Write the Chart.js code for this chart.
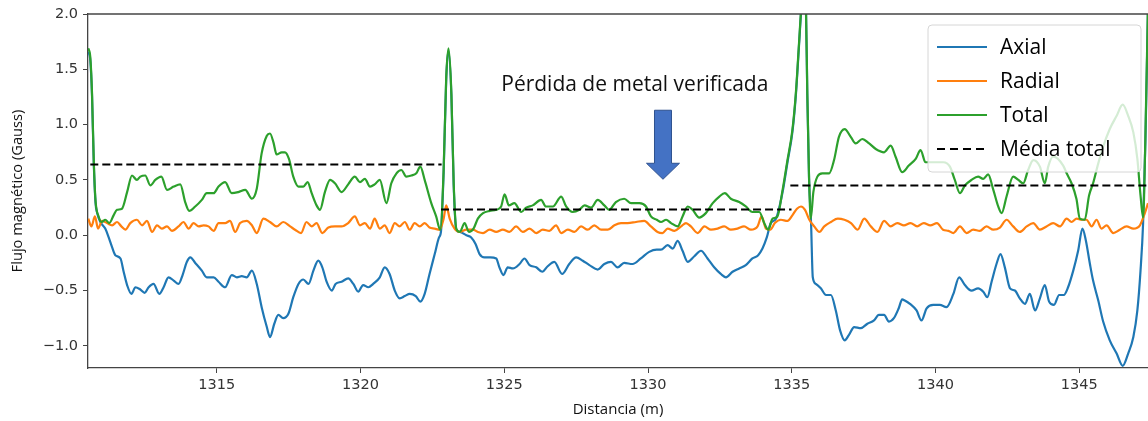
<!DOCTYPE html>
<html>
<head>
<meta charset="utf-8">
<script src="https://cdn.jsdelivr.net/npm/chart.js@4.4.1/dist/chart.umd.min.js"></script>
<style>
  html, body { margin: 0; padding: 0; background: #fff; }
  #wrap { width: 1148px; height: 421px; position: relative; }
</style>
</head>
<body>
<div id="wrap"><canvas id="fluxChart"></canvas></div>
<script>
// Axial component (blue)
const axialDist = [1310.53,1310.6,1310.66,1310.72,1310.78,1310.84,1310.95,1311.12,1311.24,1311.36,1311.47,1311.65,1311.76,1311.88,1312.03,1312.17,1312.34,1312.49,1312.63,1312.8,1313.0,1313.15,1313.32,1313.5,1313.67,1313.81,1313.96,1314.08,1314.25,1314.48,1314.65,1314.89,1315.06,1315.29,1315.52,1315.7,1315.87,1316.04,1316.22,1316.39,1316.56,1316.74,1316.85,1317.0,1317.14,1317.31,1317.49,1317.66,1317.84,1318.01,1318.19,1318.36,1318.53,1318.67,1318.82,1319.0,1319.13,1319.34,1319.57,1319.75,1319.92,1320.09,1320.27,1320.44,1320.67,1320.84,1321.01,1321.19,1321.36,1321.54,1321.71,1321.92,1322.08,1322.23,1322.4,1322.58,1322.73,1322.8,1322.89,1322.98,1323.06,1323.16,1323.24,1323.33,1323.45,1323.68,1323.85,1324.0,1324.14,1324.31,1324.51,1324.72,1324.83,1324.97,1325.12,1325.3,1325.53,1325.7,1325.88,1326.11,1326.32,1326.51,1326.74,1327.01,1327.26,1327.5,1327.73,1327.96,1328.25,1328.48,1328.71,1328.94,1329.17,1329.46,1329.75,1330.04,1330.3,1330.45,1330.68,1330.86,1331.03,1331.2,1331.38,1331.61,1331.84,1332.07,1332.3,1332.53,1332.71,1332.94,1333.17,1333.4,1333.63,1333.83,1333.98,1334.13,1334.27,1334.45,1334.68,1334.85,1335.02,1335.14,1335.25,1335.34,1335.42,1335.49,1335.54,1335.6,1335.67,1335.73,1335.84,1336.01,1336.19,1336.36,1336.53,1336.68,1336.84,1336.99,1337.17,1337.4,1337.63,1337.86,1338.03,1338.21,1338.38,1338.55,1338.72,1338.84,1338.93,1339.11,1339.34,1339.51,1339.69,1339.92,1340.15,1340.38,1340.62,1340.82,1341.02,1341.25,1341.48,1341.66,1341.8,1341.95,1342.12,1342.26,1342.41,1342.59,1342.76,1342.93,1343.11,1343.28,1343.46,1343.63,1343.8,1343.95,1344.12,1344.3,1344.46,1344.61,1344.79,1344.96,1345.11,1345.23,1345.37,1345.48,1345.66,1345.83,1346.06,1346.3,1346.51,1346.7,1346.88,1347.02,1347.13,1347.22,1347.3,1347.39];
const axialFlux = [1.66,1.58,1.26,0.66,0.30,0.20,0.12,0.06,-0.02,-0.11,-0.18,-0.21,-0.33,-0.45,-0.53,-0.47,-0.49,-0.52,-0.47,-0.44,-0.53,-0.47,-0.38,-0.41,-0.44,-0.36,-0.24,-0.20,-0.25,-0.32,-0.38,-0.38,-0.42,-0.47,-0.36,-0.38,-0.37,-0.38,-0.32,-0.44,-0.65,-0.83,-0.92,-0.80,-0.72,-0.75,-0.71,-0.56,-0.44,-0.40,-0.44,-0.32,-0.23,-0.29,-0.42,-0.50,-0.44,-0.42,-0.39,-0.44,-0.51,-0.45,-0.47,-0.44,-0.38,-0.29,-0.35,-0.50,-0.57,-0.55,-0.53,-0.55,-0.60,-0.53,-0.35,-0.17,-0.02,0.04,0.57,1.41,1.67,1.26,0.45,0.05,0.03,0.00,-0.02,-0.08,-0.17,-0.20,-0.20,-0.21,-0.29,-0.36,-0.29,-0.30,-0.26,-0.21,-0.27,-0.29,-0.33,-0.28,-0.24,-0.35,-0.26,-0.20,-0.23,-0.27,-0.31,-0.26,-0.24,-0.29,-0.25,-0.26,-0.21,-0.15,-0.13,-0.13,-0.09,-0.12,-0.05,-0.14,-0.24,-0.19,-0.14,-0.21,-0.29,-0.35,-0.38,-0.33,-0.30,-0.27,-0.21,-0.18,-0.12,-0.02,0.11,0.15,0.39,0.66,0.93,1.26,1.71,2.08,2.28,2.08,1.26,0.51,0.11,-0.38,-0.44,-0.48,-0.54,-0.54,-0.68,-0.86,-0.95,-0.90,-0.83,-0.84,-0.80,-0.77,-0.72,-0.72,-0.78,-0.75,-0.66,-0.58,-0.59,-0.62,-0.68,-0.77,-0.66,-0.63,-0.63,-0.65,-0.53,-0.38,-0.45,-0.50,-0.48,-0.51,-0.56,-0.42,-0.26,-0.17,-0.29,-0.48,-0.50,-0.57,-0.62,-0.53,-0.68,-0.57,-0.45,-0.60,-0.63,-0.54,-0.54,-0.47,-0.32,-0.14,0.06,-0.05,-0.26,-0.41,-0.59,-0.78,-0.95,-1.07,-1.18,-1.07,-0.92,-0.68,-0.32,0.11,0.85,2.05];

// Radial component (orange)
const radialDist = [1310.53,1310.64,1310.76,1310.87,1311.01,1311.18,1311.36,1311.53,1311.68,1311.82,1311.99,1312.22,1312.4,1312.57,1312.75,1312.92,1313.09,1313.27,1313.44,1313.67,1313.84,1314.02,1314.19,1314.37,1314.54,1314.71,1314.89,1315.06,1315.29,1315.46,1315.64,1315.81,1316.04,1316.22,1316.39,1316.62,1316.85,1317.08,1317.31,1317.55,1317.72,1317.93,1318.12,1318.3,1318.47,1318.67,1318.88,1319.11,1319.34,1319.57,1319.8,1319.98,1320.15,1320.33,1320.49,1320.67,1320.84,1321.01,1321.19,1321.36,1321.54,1321.71,1321.88,1322.06,1322.23,1322.4,1322.58,1322.75,1322.89,1322.98,1323.1,1323.27,1323.45,1323.68,1323.91,1324.08,1324.26,1324.49,1324.72,1324.95,1325.18,1325.41,1325.64,1325.88,1326.11,1326.34,1326.57,1326.8,1326.98,1327.21,1327.44,1327.67,1327.9,1328.13,1328.37,1328.6,1328.83,1329.06,1329.29,1329.58,1329.87,1330.1,1330.33,1330.5,1330.68,1330.92,1331.15,1331.32,1331.49,1331.73,1331.96,1332.19,1332.42,1332.65,1332.88,1333.11,1333.34,1333.58,1333.81,1333.95,1334.1,1334.25,1334.41,1334.62,1334.85,1335.02,1335.18,1335.32,1335.46,1335.61,1335.78,1335.96,1336.13,1336.36,1336.6,1336.83,1337.06,1337.29,1337.52,1337.75,1337.98,1338.21,1338.44,1338.67,1338.9,1339.13,1339.36,1339.59,1339.82,1340.05,1340.26,1340.45,1340.62,1340.85,1341.08,1341.31,1341.54,1341.77,1342.01,1342.24,1342.47,1342.7,1342.93,1343.17,1343.4,1343.63,1343.86,1344.09,1344.33,1344.56,1344.73,1344.91,1345.08,1345.25,1345.43,1345.6,1345.77,1345.95,1346.18,1346.41,1346.64,1346.88,1347.11,1347.28,1347.39];
const radialFlux = [0.15,0.08,0.17,0.06,0.13,0.11,0.09,0.12,0.08,0.05,0.11,0.14,0.09,0.13,0.03,0.09,0.06,0.08,0.04,0.08,0.12,0.06,0.11,0.08,0.09,0.08,0.04,0.11,0.11,0.13,0.03,0.11,0.13,0.09,0.02,0.15,0.12,0.08,0.12,0.08,0.05,0.02,0.12,0.08,0.11,0.02,0.07,0.08,0.08,0.11,0.17,0.09,0.11,0.06,0.15,0.06,0.09,0.02,0.11,0.08,0.12,0.05,0.11,0.08,0.11,0.07,0.06,0.05,0.15,0.27,0.15,0.06,0.03,0.05,0.05,0.03,0.02,0.05,0.03,0.05,0.03,0.08,0.03,0.06,0.02,0.05,0.04,0.09,0.02,0.05,0.03,0.08,0.05,0.09,0.05,0.05,0.09,0.11,0.11,0.12,0.13,0.08,0.03,0.02,0.06,0.04,0.08,0.11,0.08,0.02,0.08,0.05,0.06,0.08,0.05,0.06,0.08,0.05,0.08,0.17,0.06,0.05,0.11,0.14,0.13,0.18,0.24,0.26,0.23,0.14,0.08,0.03,0.08,0.12,0.15,0.14,0.11,0.05,0.15,0.08,0.03,0.13,0.08,0.11,0.09,0.11,0.08,0.11,0.09,0.11,0.05,0.04,0.02,0.08,0.02,0.05,0.04,0.08,0.05,0.07,0.14,0.08,0.03,0.08,0.11,0.05,0.08,0.11,0.08,0.15,0.12,0.15,0.14,0.14,0.08,0.14,0.06,0.09,0.02,0.05,0.08,0.06,0.09,0.20,0.29];

// Total field (green)
const totalDist = [1310.53,1310.6,1310.66,1310.72,1310.78,1310.89,1311.0,1311.12,1311.26,1311.41,1311.53,1311.7,1311.88,1312.05,1312.22,1312.34,1312.51,1312.69,1312.86,1313.07,1313.27,1313.5,1313.73,1313.9,1314.04,1314.25,1314.48,1314.65,1314.89,1315.06,1315.29,1315.52,1315.75,1315.99,1316.22,1316.39,1316.56,1316.74,1316.85,1316.97,1317.08,1317.26,1317.37,1317.51,1317.66,1317.84,1318.01,1318.16,1318.3,1318.47,1318.59,1318.76,1318.94,1319.11,1319.34,1319.57,1319.8,1319.98,1320.15,1320.33,1320.49,1320.67,1320.9,1321.07,1321.25,1321.42,1321.59,1321.77,1321.94,1322.08,1322.23,1322.46,1322.63,1322.77,1322.89,1322.98,1323.06,1323.16,1323.24,1323.33,1323.45,1323.62,1323.77,1323.93,1324.08,1324.26,1324.49,1324.72,1324.89,1325.01,1325.16,1325.35,1325.59,1325.76,1325.99,1326.28,1326.45,1326.69,1326.98,1327.15,1327.38,1327.61,1327.79,1328.02,1328.25,1328.48,1328.65,1328.88,1329.17,1329.41,1329.7,1329.93,1330.1,1330.3,1330.45,1330.63,1330.8,1331.03,1331.2,1331.38,1331.55,1331.78,1332.01,1332.25,1332.48,1332.67,1332.88,1333.17,1333.4,1333.63,1333.87,1334.04,1334.18,1334.33,1334.5,1334.68,1334.85,1335.02,1335.14,1335.25,1335.34,1335.42,1335.49,1335.54,1335.6,1335.66,1335.75,1335.89,1336.06,1336.3,1336.47,1336.64,1336.84,1337.05,1337.22,1337.45,1337.69,1337.92,1338.21,1338.44,1338.61,1338.84,1339.07,1339.31,1339.48,1339.65,1339.92,1340.27,1340.5,1340.67,1340.85,1341.02,1341.25,1341.48,1341.66,1341.83,1342.01,1342.18,1342.3,1342.47,1342.7,1342.88,1343.05,1343.22,1343.4,1343.63,1343.8,1343.92,1344.09,1344.44,1344.56,1344.73,1344.9,1345.02,1345.19,1345.34,1345.48,1345.66,1345.83,1346.06,1346.3,1346.51,1346.7,1346.88,1347.02,1347.13,1347.22,1347.3,1347.39];
const totalFlux = [1.69,1.61,1.28,0.68,0.32,0.17,0.12,0.14,0.11,0.18,0.23,0.24,0.39,0.54,0.50,0.53,0.54,0.45,0.50,0.53,0.41,0.44,0.46,0.30,0.22,0.26,0.32,0.38,0.38,0.44,0.48,0.38,0.39,0.41,0.33,0.42,0.74,0.90,0.92,0.84,0.73,0.75,0.75,0.69,0.53,0.44,0.44,0.48,0.38,0.27,0.23,0.39,0.50,0.47,0.39,0.46,0.53,0.48,0.51,0.44,0.46,0.50,0.29,0.47,0.56,0.59,0.53,0.54,0.56,0.62,0.50,0.29,0.17,0.05,0.59,1.43,1.69,1.28,0.47,0.06,0.03,0.11,0.03,0.06,0.15,0.20,0.22,0.23,0.26,0.37,0.27,0.29,0.21,0.25,0.27,0.32,0.26,0.26,0.35,0.26,0.21,0.23,0.27,0.25,0.32,0.27,0.23,0.30,0.33,0.29,0.29,0.26,0.17,0.14,0.12,0.14,0.11,0.08,0.17,0.26,0.23,0.16,0.20,0.29,0.35,0.38,0.33,0.30,0.26,0.21,0.21,0.11,0.05,0.15,0.17,0.41,0.68,0.95,1.28,1.73,2.10,2.30,2.10,1.28,0.53,0.15,0.39,0.53,0.56,0.56,0.68,0.89,0.96,0.89,0.83,0.87,0.83,0.78,0.75,0.81,0.71,0.57,0.63,0.69,0.77,0.66,0.66,0.66,0.62,0.50,0.38,0.45,0.50,0.53,0.51,0.55,0.41,0.26,0.20,0.35,0.53,0.50,0.47,0.59,0.68,0.62,0.47,0.62,0.71,0.63,0.56,0.47,0.33,0.15,0.14,0.36,0.47,0.65,0.80,0.96,1.08,1.18,1.08,0.93,0.69,0.36,0.16,0.90,2.10];

// Mean of total field per section (dashed)
const meanStart = [1310.6, 1322.8, 1334.95];
const meanEnd = [1322.82, 1334.99, 1347.39];
const meanValue = [0.64, 0.232, 0.45];

const xTicks = [1315, 1320, 1325, 1330, 1335, 1340, 1345];
const seriesLabels = ['Axial', 'Radial', 'Total', 'Média total'];
const colors = ['#1f77b4', '#ff7f0e', '#2ca02c', '#000000'];

const annotationText = 'Pérdida de metal verificada';
const annotationPos = { x: 1329.54, y: 1.36 };
const arrowTip = { x: 1330.52, y: 0.506 };
const arrowTop = 1.13;

function toPoints(xs, ys) {
    return xs.map((x, i) => ({ x: x, y: ys[i] }));
}

const lineStyle = {
    borderWidth: 2.2,
    pointRadius: 0,
    fill: false,
    cubicInterpolationMode: 'monotone'
};

const datasets = [
    { label: seriesLabels[0], data: toPoints(axialDist, axialFlux), borderColor: colors[0], order: 4, ...lineStyle },
    { label: seriesLabels[1], data: toPoints(radialDist, radialFlux), borderColor: colors[1], order: 3, ...lineStyle },
    { label: seriesLabels[2], data: toPoints(totalDist, totalFlux), borderColor: colors[2], order: 2, ...lineStyle }
];
meanValue.forEach((v, i) => {
    datasets.push({
        label: seriesLabels[3],
        data: [{ x: meanStart[i], y: v }, { x: meanEnd[i], y: v }],
        borderColor: colors[3],
        borderWidth: 2,
        borderDash: [8, 4],
        pointRadius: 0,
        order: 1
    });
});

// Top spine, legend box and the annotation arrow
const overlayPlugin = {
    id: 'overlay',
    afterDatasetsDraw(chart) {
        const { ctx, chartArea } = chart;
        ctx.save();
        ctx.strokeStyle = '#444';
        ctx.lineWidth = 1.3;
        ctx.beginPath();
        ctx.moveTo(chartArea.left, chartArea.top);
        ctx.lineTo(chartArea.right, chartArea.top);
        ctx.stroke();
        ctx.restore();
    },
    afterDraw(chart) {
        const { ctx } = chart;
        const xs = chart.scales.x, ys = chart.scales.y;
        ctx.save();

        // legend
        const bx = 928, by = 25, bw = 213, bh = 147;
        ctx.beginPath();
        ctx.roundRect(bx, by, bw, bh, 4);
        ctx.fillStyle = 'rgba(255,255,255,0.8)';
        ctx.fill();
        ctx.strokeStyle = '#d6d6d6';
        ctx.lineWidth = 1;
        ctx.stroke();
        ctx.font = '21px "Open Sans"';
        ctx.textBaseline = 'middle';
        seriesLabels.forEach((label, i) => {
            const yy = 47 + i * 34;
            ctx.beginPath();
            ctx.strokeStyle = colors[i];
            ctx.lineWidth = 2.2;
            ctx.setLineDash(i === 3 ? [8, 5] : []);
            ctx.moveTo(937, yy);
            ctx.lineTo(987, yy);
            ctx.stroke();
            ctx.setLineDash([]);
            ctx.fillStyle = '#000';
            ctx.fillText(label, 1000, yy + 1);
        });

        // annotation text
        ctx.font = '21px "Open Sans"';
        ctx.textAlign = 'center';
        ctx.fillStyle = '#111';
        ctx.fillText(annotationText, xs.getPixelForValue(annotationPos.x), ys.getPixelForValue(annotationPos.y));

        // arrow
        const tx = xs.getPixelForValue(arrowTip.x);
        const ty = ys.getPixelForValue(arrowTip.y);
        const top = ys.getPixelForValue(arrowTop);
        const headH = 16, shaftW = 8.5, headW = 16.5;
        ctx.beginPath();
        ctx.moveTo(tx - shaftW, top);
        ctx.lineTo(tx + shaftW, top);
        ctx.lineTo(tx + shaftW, ty - headH);
        ctx.lineTo(tx + headW, ty - headH);
        ctx.lineTo(tx, ty);
        ctx.lineTo(tx - headW, ty - headH);
        ctx.lineTo(tx - shaftW, ty - headH);
        ctx.closePath();
        ctx.fillStyle = '#4472c4';
        ctx.fill();
        ctx.strokeStyle = '#2f528f';
        ctx.lineWidth = 1;
        ctx.stroke();
        ctx.restore();
    }
};

const ctx = document.getElementById('fluxChart').getContext('2d');
new Chart(ctx, {
    type: 'line',
    data: { datasets: datasets },
    options: {
        responsive: true,
        maintainAspectRatio: false,
        animation: false,
        layout: { padding: { top: 14, left: 0, right: 0, bottom: 0 } },
        plugins: {
            legend: { display: false },
            tooltip: { enabled: false }
        },
        scales: {
            x: {
                type: 'linear',
                min: 1310.52,
                max: 1347.39,
                afterBuildTicks: (scale) => { scale.ticks = xTicks.map(v => ({ value: v })); },
                afterFit: (scale) => { scale.height = 53; },
                grid: { drawOnChartArea: false, drawTicks: true, tickLength: 5, tickColor: '#444' },
                border: { display: true, color: '#444', width: 1.3 },
                ticks: {
                    color: '#333',
                    font: { family: 'DejaVu Sans', size: 14.5 },
                    padding: 4,
                    maxRotation: 0,
                    callback: (v) => String(v)
                },
                title: {
                    display: true,
                    text: 'Distancia (m)',
                    color: '#111',
                    font: { family: 'Open Sans', size: 15 },
                    padding: { top: 0, bottom: 2 }
                }
            },
            y: {
                min: -1.2,
                max: 2.0,
                afterBuildTicks: (scale) => { scale.ticks = [-1, -0.5, 0, 0.5, 1, 1.5, 2].map(v => ({ value: v })); },
                afterFit: (scale) => { scale.width = 88; },
                grid: { drawOnChartArea: false, drawTicks: true, tickLength: 5, tickColor: '#444' },
                border: { display: true, color: '#444', width: 1.3 },
                ticks: {
                    color: '#333',
                    font: { family: 'DejaVu Sans', size: 14.5 },
                    padding: 5,
                    callback: (v) => v.toFixed(1).replace('-', '\u2212')
                },
                title: {
                    display: true,
                    text: 'Flujo magnético (Gauss)',
                    color: '#111',
                    font: { family: 'Open Sans', size: 14.7 },
                    padding: { top: 9, bottom: 0 }
                }
            }
        }
    },
    plugins: [overlayPlugin]
});
</script>
</body>
</html>
